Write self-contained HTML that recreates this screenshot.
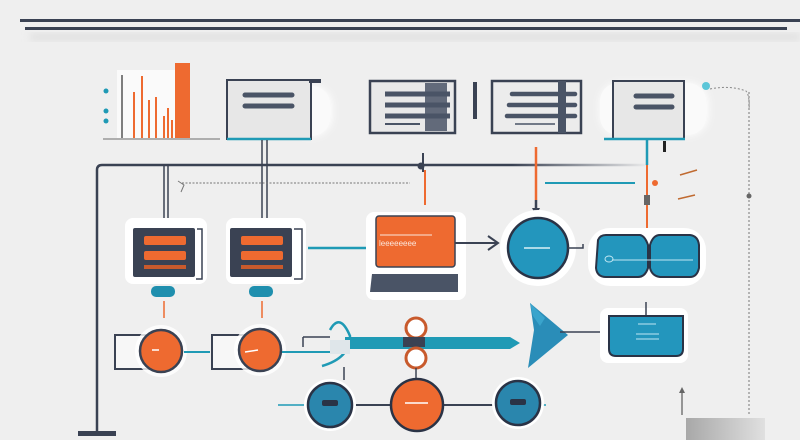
<!DOCTYPE html>
<html><head><meta charset="utf-8"><style>
html,body{margin:0;padding:0;background:#efefef;}
svg{display:block;font-family:"Liberation Sans",sans-serif;}
</style></head><body>
<svg width="800" height="440" viewBox="0 0 800 440" xmlns="http://www.w3.org/2000/svg">
<defs>
<filter id="sh" x="-30%" y="-30%" width="160%" height="160%"><feGaussianBlur stdDeviation="4"/></filter>
<linearGradient id="fade" x1="0" x2="1"><stop offset="0" stop-color="#3a4253"/><stop offset="0.75" stop-color="#3a4253"/><stop offset="1" stop-color="#3a4253" stop-opacity="0"/></linearGradient>
<linearGradient id="gr" x1="0" x2="1"><stop offset="0" stop-color="#a8a8a8"/><stop offset="1" stop-color="#e0e0e0"/></linearGradient>
</defs>
<rect width="800" height="440" fill="#efefef"/>
<!-- top lines -->
<rect x="30" y="34" width="770" height="6" fill="#ddd" filter="url(#sh)"/>
<rect x="20" y="19" width="780" height="3" fill="#3a4253"/>
<rect x="25" y="27" width="762" height="3" fill="#3a4253"/>
<!-- chart -->
<rect x="117" y="70" width="58" height="68" fill="#fafafa"/>
<rect x="175" y="63" width="15" height="75" fill="#ee6a30"/>
<g stroke="#ee6a30" stroke-width="2">
<line x1="134" y1="138" x2="134" y2="92"/><line x1="142" y1="138" x2="142" y2="76"/><line x1="149" y1="138" x2="149" y2="100"/><line x1="156" y1="138" x2="156" y2="97"/><line x1="164" y1="138" x2="164" y2="116"/><line x1="168" y1="138" x2="168" y2="108"/><line x1="172" y1="138" x2="172" y2="120"/>
</g>
<line x1="122" y1="138" x2="122" y2="75" stroke="#555" stroke-width="1.5"/>
<line x1="103" y1="139" x2="220" y2="139" stroke="#999" stroke-width="1.5"/>
<g fill="#1f9ab5"><circle cx="106" cy="91" r="2.5"/><circle cx="106" cy="111" r="2.5"/><circle cx="106" cy="121" r="2.5"/></g>
<!-- box1 -->
<rect x="290" y="86" width="42" height="50" rx="20" fill="#fff" filter="url(#sh)"/>
<rect x="290" y="86" width="40" height="50" rx="18" fill="#fafafa"/>
<rect x="227" y="80" width="84" height="59" fill="#e7e7e7" stroke="#3a4253" stroke-width="2"/>
<rect x="309" y="79" width="12" height="4" fill="#3a4253"/>
<line x1="227" y1="139" x2="311" y2="139" stroke="#1f9ab5" stroke-width="2.5"/>
<g stroke="#4a5466" stroke-width="5" stroke-linecap="round"><line x1="245" y1="95" x2="292" y2="95"/><line x1="245" y1="106" x2="292" y2="106"/></g>
<!-- box2 blurred -->
<rect x="370" y="81" width="85" height="52" fill="#e9e9e9" stroke="#3a4253" stroke-width="2.5"/>
<rect x="425" y="83" width="22" height="48" fill="#4a5466" opacity="0.85"/>
<g stroke="#4a5466" stroke-width="5"><line x1="385" y1="94" x2="450" y2="94"/><line x1="385" y1="105" x2="450" y2="105"/><line x1="385" y1="116" x2="450" y2="116"/></g>
<line x1="385" y1="124" x2="420" y2="124" stroke="#4a5466" stroke-width="2"/>
<rect x="473" y="82" width="4" height="37" fill="#3a4253"/>
<!-- box3 -->
<rect x="492" y="81" width="89" height="52" fill="#ececec" stroke="#3a4253" stroke-width="2.5"/>
<rect x="558" y="81" width="8" height="52" fill="#4a5466"/>
<g stroke="#4a5466" stroke-width="4.5" stroke-linecap="round"><line x1="512" y1="94" x2="575" y2="94"/><line x1="509" y1="105" x2="575" y2="105"/><line x1="507" y1="116" x2="575" y2="116"/></g>
<line x1="515" y1="124" x2="555" y2="124" stroke="#4a5466" stroke-width="1.5"/>
<!-- box4 -->
<rect x="600" y="83" width="108" height="52" rx="20" fill="#fff" filter="url(#sh)"/>
<rect x="600" y="83" width="106" height="52" rx="18" fill="#fafafa"/>
<rect x="613" y="81" width="71" height="58" fill="#e7e7e7" stroke="#3a4253" stroke-width="2"/>
<line x1="604" y1="139" x2="685" y2="139" stroke="#1f9ab5" stroke-width="2.5"/>
<g stroke="#4a5466" stroke-width="5" stroke-linecap="round"><line x1="636" y1="96" x2="672" y2="96"/><line x1="636" y1="107" x2="672" y2="107"/></g>
<circle cx="706" cy="86" r="4" fill="#5cc6d8"/>
<path d="M710 89 Q730 85 746 91 Q750 96 749 110" fill="none" stroke="#888" stroke-width="1" stroke-dasharray="2 2"/>
<!-- connectors -->
<path d="M97 432 L97 170 Q97 165 102 165 L650 165" fill="none" stroke="url(#fade)" stroke-width="2.5"/>
<rect x="78" y="431" width="38" height="5" fill="#3a4253"/>
<g stroke="#3a4253" stroke-width="1.5"><line x1="164" y1="165" x2="164" y2="220"/><line x1="168" y1="165" x2="168" y2="220"/><line x1="262" y1="140" x2="262" y2="220"/><line x1="267" y1="140" x2="267" y2="220"/></g>
<line x1="182" y1="183" x2="410" y2="183" stroke="#777" stroke-width="1" stroke-dasharray="2 1.5"/>
<path d="M178 181 L184 185 L181 192" fill="none" stroke="#777" stroke-width="1"/>
<line x1="423" y1="153" x2="423" y2="172" stroke="#3a4253" stroke-width="2"/>
<circle cx="421" cy="166" r="3.5" fill="#3a4253"/>
<line x1="425" y1="170" x2="425" y2="205" stroke="#ee6a30" stroke-width="2"/>
<line x1="536" y1="147" x2="536" y2="200" stroke="#ee6a30" stroke-width="2.5"/>
<line x1="536" y1="200" x2="536" y2="212" stroke="#3a4253" stroke-width="2.5"/>
<path d="M532 208 L540 208 L536 216 Z" fill="#3a4253"/>
<line x1="545" y1="183" x2="635" y2="183" stroke="#1f9ab5" stroke-width="2"/>
<line x1="647" y1="140" x2="647" y2="165" stroke="#1f9ab5" stroke-width="2.5"/>
<rect x="663" y="141" width="3" height="11" fill="#222"/>
<line x1="647" y1="165" x2="647" y2="230" stroke="#ee6a30" stroke-width="2"/>
<circle cx="655" cy="183" r="3" fill="#ee6a30"/>
<rect x="644" y="195" width="6" height="10" fill="#666"/>
<line x1="680" y1="175" x2="697" y2="170" stroke="#c06a30" stroke-width="1.5"/>
<line x1="678" y1="199" x2="695" y2="195" stroke="#c06a30" stroke-width="1.5"/>
<line x1="749" y1="92" x2="749" y2="415" stroke="#777" stroke-width="1" stroke-dasharray="2 2"/>
<circle cx="749" cy="196" r="2.5" fill="#666"/>
<!-- servers -->
<g>
<rect x="125" y="218" width="82" height="66" rx="8" fill="#fff"/>
<rect x="133" y="228" width="62" height="49" rx="2" fill="#3a4253"/>
<rect x="144" y="236" width="42" height="9" rx="2" fill="#ee6a30"/><rect x="144" y="251" width="42" height="9" rx="2" fill="#ee6a30"/><rect x="144" y="265" width="42" height="4" fill="#c85a2c"/>
<path d="M197 229 L202 229 L202 279 L196 279" fill="none" stroke="#3a4253" stroke-width="1.5"/>
<rect x="226" y="218" width="80" height="66" rx="8" fill="#fff"/>
<rect x="230" y="228" width="62" height="49" rx="2" fill="#3a4253"/>
<rect x="241" y="236" width="42" height="9" rx="2" fill="#ee6a30"/><rect x="241" y="251" width="42" height="9" rx="2" fill="#ee6a30"/><rect x="241" y="265" width="42" height="4" fill="#c85a2c"/>
<path d="M294 229 L302 229 L302 279 L294 279" fill="none" stroke="#3a4253" stroke-width="1.5"/>
</g>
<rect x="151" y="286" width="24" height="11" rx="5" fill="#1f8fae"/>
<rect x="249" y="286" width="24" height="11" rx="5" fill="#1f8fae"/>
<line x1="164" y1="301" x2="164" y2="318" stroke="#ee6a30" stroke-width="1.5"/>
<line x1="262" y1="301" x2="262" y2="318" stroke="#ee6a30" stroke-width="1.5"/>
<line x1="308" y1="248" x2="376" y2="248" stroke="#1f9ab5" stroke-width="2.5"/>
<!-- laptop -->
<rect x="366" y="212" width="100" height="88" rx="8" fill="#fff"/>
<rect x="376" y="216" width="79" height="51" rx="3" fill="#ee6a30" stroke="#3a4253" stroke-width="1.5"/>
<line x1="380" y1="235" x2="432" y2="235" stroke="#fbe6dc" stroke-width="1"/>
<text x="379" y="246" font-size="8" fill="#fbe6dc">Ɩeeeeeeee</text>
<path d="M372 274 L458 274 L458 292 L370 292 Z" fill="#4a5466"/>
<line x1="455" y1="243" x2="497" y2="243" stroke="#3a4253" stroke-width="2"/>
<path d="M488 236 L498 243 L488 250" fill="none" stroke="#3a4253" stroke-width="2"/>
<!-- teal circle -->
<circle cx="538" cy="248" r="38" fill="#fff"/>
<circle cx="538" cy="248" r="30" fill="#2396bd" stroke="#2a3346" stroke-width="2.5"/>
<line x1="524" y1="248" x2="550" y2="248" stroke="#d9f0f7" stroke-width="1.5"/>
<path d="M568 248 L583 248 L583 244" fill="none" stroke="#3a4253" stroke-width="1.5"/>
<!-- double pill -->
<rect x="588" y="228" width="118" height="58" rx="22" fill="#fff"/>
<path d="M598 240 Q600 235 606 235 L640 235 Q645 236 648 245 L648 268 Q645 277 638 277 L606 277 Q597 277 596 268 Z" fill="#2396bd" stroke="#2a3346" stroke-width="2"/>
<path d="M650 245 Q653 235 660 235 L690 235 Q698 236 699 245 L699 268 Q697 277 690 277 L660 277 Q652 276 650 268 Z" fill="#2396bd" stroke="#2a3346" stroke-width="2"/>
<line x1="612" y1="260" x2="693" y2="260" stroke="#bfe6f2" stroke-width="1"/>
<ellipse cx="609" cy="259" rx="4" ry="3" fill="none" stroke="#bfe6f2" stroke-width="1"/>
<!-- row3 -->
<rect x="115" y="335" width="38" height="34" fill="#f7f7f7" stroke="#3a4253" stroke-width="2"/>
<circle cx="161" cy="351" r="26" fill="#fff" opacity="0.8"/>
<circle cx="161" cy="351" r="21" fill="#ee6a30" stroke="#3a4253" stroke-width="2.5"/>
<line x1="152" y1="350" x2="159" y2="350" stroke="#fff" stroke-width="1.5"/>
<line x1="184" y1="352" x2="210" y2="352" stroke="#1f9ab5" stroke-width="2"/>
<rect x="212" y="335" width="38" height="34" fill="#f7f7f7" stroke="#3a4253" stroke-width="2"/>
<circle cx="260" cy="350" r="26" fill="#fff" opacity="0.8"/>
<circle cx="260" cy="350" r="21" fill="#ee6a30" stroke="#3a4253" stroke-width="2.5"/>
<line x1="245" y1="352" x2="258" y2="350" stroke="#fff" stroke-width="1.5"/>
<line x1="282" y1="352" x2="330" y2="352" stroke="#1f9ab5" stroke-width="2"/>
<path d="M303 337 L303 347 M303 337 L330 337" fill="none" stroke="#3a4253" stroke-width="1.5"/>
<path d="M330 330 Q340 312 350 336 Q350 358 322 366" fill="none" stroke="#1f9ab5" stroke-width="2.5"/>
<path d="M345 337 L510 337 L520 343 L510 349 L345 349 Z" fill="#1f9ab5"/>
<rect x="330" y="340" width="20" height="14" fill="#dfe6ea"/>
<line x1="344" y1="367" x2="344" y2="380" stroke="#3a4253" stroke-width="1.5"/>
<circle cx="416" cy="328" r="10" fill="#fff" stroke="#c85a2c" stroke-width="3"/>
<rect x="403" y="337" width="22" height="10" fill="#3a4253"/>
<circle cx="416" cy="358" r="10" fill="#fff" stroke="#c85a2c" stroke-width="3"/>
<line x1="416" y1="368" x2="416" y2="382" stroke="#3a4253" stroke-width="1.5"/>
<!-- teal arrow -->
<path d="M530 303 L568 335 L528 368 L534 330 Z" fill="#2a8db8"/>
<path d="M530 303 L545 318 L540 326 L533 316 Z" fill="#3aa4cc"/>
<line x1="560" y1="332" x2="612" y2="332" stroke="#3a4253" stroke-width="1.5"/>
<!-- blue box -->
<rect x="600" y="308" width="88" height="55" rx="8" fill="#fff"/>
<line x1="646" y1="302" x2="646" y2="317" stroke="#3a4253" stroke-width="1.5"/>
<path d="M609 316 L683 316 L683 349 Q683 356 676 356 L616 356 Q609 356 609 349 Z" fill="#2396bd" stroke="#2a3346" stroke-width="2"/>
<g stroke="#bfe6f2" stroke-width="1"><line x1="638" y1="324" x2="656" y2="324"/><line x1="636" y1="334" x2="659" y2="334"/><line x1="636" y1="339" x2="659" y2="339"/></g>
<!-- row4 -->
<line x1="278" y1="405" x2="546" y2="405" stroke="#1f9ab5" stroke-width="1.5"/>
<line x1="345" y1="405" x2="500" y2="405" stroke="#3a4253" stroke-width="2"/>
<circle cx="330" cy="405" r="26" fill="#fff"/>
<circle cx="330" cy="405" r="22" fill="#2a86ad" stroke="#2a3346" stroke-width="2.5"/>
<rect x="322" y="400" width="16" height="6" rx="2" fill="#2a3346"/>
<circle cx="417" cy="405" r="26" fill="#ee6a30" stroke="#2a3346" stroke-width="2.5"/>
<line x1="405" y1="403" x2="428" y2="403" stroke="#fff" stroke-width="1.5"/>
<circle cx="518" cy="403" r="26" fill="#fff"/>
<circle cx="518" cy="403" r="22" fill="#2a86ad" stroke="#2a3346" stroke-width="2.5"/>
<rect x="510" y="399" width="16" height="6" rx="2" fill="#2a3346"/>
<line x1="682" y1="392" x2="682" y2="415" stroke="#777" stroke-width="1.5"/>
<path d="M679 393 L682 387 L685 393 Z" fill="#666"/>
<rect x="686" y="418" width="79" height="22" fill="url(#gr)"/>
</svg>
</body></html>
